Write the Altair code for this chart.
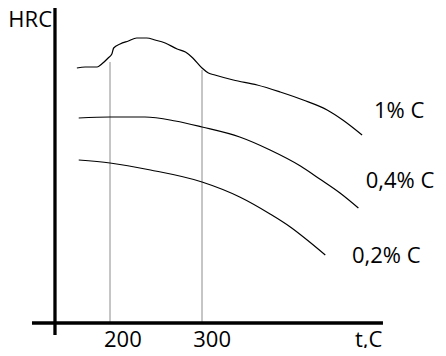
import altair as alt
import pandas as pd

# ---- data (temperature t, hardness HRC; arbitrary sketch units) ----
series_names = ["1% C", "0,4% C", "0,2% C"]

t_1 = [164, 173, 186, 191, 198, 202, 204, 211, 220, 229, 240, 249, 260, 273,
       282, 290, 300, 307, 314, 334, 360, 385, 410, 436, 453, 474]
hrc_1 = [51.0, 51.2, 51.2, 51.8, 53.0, 53.8, 55.0, 55.8, 56.4, 57.0, 57.0, 56.6,
         56.0, 54.8, 54.2, 53.0, 51.0, 50.0, 49.6, 48.6, 47.6, 46.2, 44.6, 42.6,
         40.6, 37.6]

t_04 = [166, 200, 238, 271, 300, 341, 374, 407, 428, 450, 470]
hrc_04 = [41.0, 41.2, 41.2, 40.4, 39.2, 37.2, 34.6, 31.4, 28.8, 26.0, 23.0]

t_02 = [166, 200, 244, 300, 341, 374, 396, 417, 434]
hrc_02 = [32.6, 32.0, 30.6, 28.2, 25.2, 21.8, 19.2, 16.2, 13.6]

# vertical guide lines at the tick temperatures
guide_t = [200, 300]
guide_top = [52.2, 50.6]

# axis extents
axis_t = 140.2
axis_t_range = [115.2, 496.7]
axis_hrc_range = [-2.4, 63.4]

# tick labels
tick_t = [214, 311]
tick_labels = ["200", "300"]

# curve labels
label_text = ["1% C", "0,4% C", "0,2% C"]
label_t = [487, 478, 463]
label_hrc = [41.0, 27.0, 12.1]

X_DOMAIN = [89.13, 556.52]
Y_DOMAIN = [-5, 63]

# ---- build tables ----
rows = []
for name, ts, hs in zip(series_names, [t_1, t_04, t_02], [hrc_1, hrc_04, hrc_02]):
    for i, (t, h) in enumerate(zip(ts, hs)):
        rows.append({"series": name, "t": t, "hrc": h, "i": i})
curves_df = pd.DataFrame(rows)

guides_df = pd.DataFrame({"t": guide_t, "top": guide_top, "bottom": [0, 0]})
yaxis_df = pd.DataFrame({"t": [axis_t], "h1": [axis_hrc_range[0]], "h2": [axis_hrc_range[1]]})
xaxis_df = pd.DataFrame({"t1": [axis_t_range[0]], "t2": [axis_t_range[1]], "h": [0]})
ticks_df = pd.DataFrame({"t": tick_t, "hrc": [-4.8, -4.8], "label": tick_labels})
labels_df = pd.DataFrame({"t": label_t, "hrc": label_hrc, "label": label_text})
extra_df = pd.DataFrame({"t": [89.5, 466.3], "hrc": [59.2, -4.8], "label": ["HRC", "t,C"]})

xs = alt.Scale(domain=X_DOMAIN, nice=False, zero=False)
ys = alt.Scale(domain=Y_DOMAIN, nice=False, zero=False)

FONT = "Open Sans"
FS = 22

curves = alt.Chart(curves_df).mark_line(
    color="black", strokeWidth=1.2, interpolate="monotone"
).encode(
    x=alt.X("t:Q", scale=xs, axis=None),
    y=alt.Y("hrc:Q", scale=ys, axis=None),
    detail="series:N",
    order="i:O",
)

guides = alt.Chart(guides_df).mark_rule(color="#8c8c8c", strokeWidth=1).encode(
    x=alt.X("t:Q", scale=xs, axis=None),
    y=alt.Y("top:Q", scale=ys, axis=None),
    y2="bottom:Q",
)

yaxis = alt.Chart(yaxis_df).mark_rule(color="black", strokeWidth=3.3).encode(
    x=alt.X("t:Q", scale=xs, axis=None),
    y=alt.Y("h1:Q", scale=ys, axis=None),
    y2="h2:Q",
)

xaxis = alt.Chart(xaxis_df).mark_rule(color="black", strokeWidth=3.3).encode(
    x=alt.X("t1:Q", scale=xs, axis=None),
    x2="t2:Q",
    y=alt.Y("h:Q", scale=ys, axis=None),
)

ticks = alt.Chart(ticks_df).mark_text(
    font=FONT, fontSize=FS, color="black", align="center", baseline="alphabetic"
).encode(
    x=alt.X("t:Q", scale=xs, axis=None),
    y=alt.Y("hrc:Q", scale=ys, axis=None),
    text="label:N",
)

labels = alt.Chart(labels_df).mark_text(
    font=FONT, fontSize=FS, color="black", align="left", baseline="alphabetic"
).encode(
    x=alt.X("t:Q", scale=xs, axis=None),
    y=alt.Y("hrc:Q", scale=ys, axis=None),
    text="label:N",
)

extra = alt.Chart(extra_df).mark_text(
    font=FONT, fontSize=FS, color="black", align="left", baseline="alphabetic"
).encode(
    x=alt.X("t:Q", scale=xs, axis=None),
    y=alt.Y("hrc:Q", scale=ys, axis=None),
    text="label:N",
)

chart = alt.layer(guides, curves, yaxis, xaxis, ticks, labels, extra).properties(
    width=430,
    height=340,
    padding=0,
    autosize=alt.AutoSizeParams(type="none"),
).configure_view(stroke=None)

chart.save("out.html", embed_options={"renderer": "svg", "actions": False})
